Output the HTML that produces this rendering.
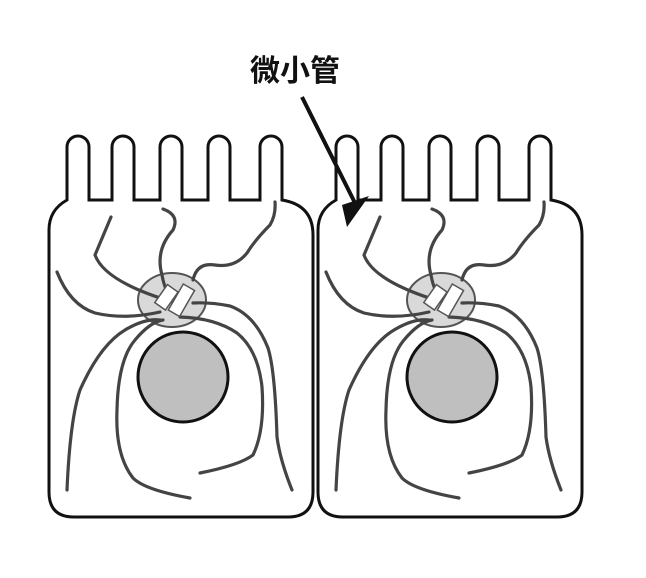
<!DOCTYPE html>
<html><head><meta charset="utf-8"><style>body{margin:0;background:#fff}svg{display:block}</style></head><body>
<svg width="646" height="578" viewBox="0 0 646 578" xmlns="http://www.w3.org/2000/svg">
<defs>
<g id="cell">
<path d="M67 200 L67 147 A11 11 0 0 1 89 147 L89 200 L112 200 L112 147 A11 11 0 0 1 134 147 L134 200 L160 200 L160 147 A11 11 0 0 1 182 147 L182 200 L208 200 L208 147 A11 11 0 0 1 230 147 L230 200 L260 200 L260 147 A11 11 0 0 1 282 147 L282 200 Q313 205 313 235 L313 492 Q313 517 288 517 L74 517 Q49 517 49 492 L49 230 Q49 210 67 200 Z" fill="#fff" stroke="#111" stroke-width="3"/>
<ellipse cx="172" cy="300" rx="34" ry="27" fill="#d9d9d9" stroke="#555" stroke-width="2"/>
<g fill="none" stroke="#444" stroke-width="3.2" stroke-linecap="round">
<path d="M111 217 L95 255 Q105 282 173 302"/>
<path d="M163 209 Q180 215 173 230 Q155 250 162 275 Q165 292 173 300"/>
<path d="M275 202 Q276 215 270 225 Q255 240 247 253 Q235 268 215 265 Q197 262 193 280"/>
<path d="M57 272 Q70 305 95 313 Q125 320 160 312"/>
<path d="M67 490 Q70 420 80 390 Q100 345 125 330 Q145 318 160 320"/>
<path d="M190 498 Q145 490 133 478 Q115 455 117 410 Q118 360 135 340 Q150 322 163 320"/>
<path d="M200 473 Q240 465 253 455 Q265 430 262 387 Q258 350 237 333 Q215 318 180 317"/>
<path d="M292 490 Q280 460 277 437 Q275 370 268 348 Q255 315 230 306 Q210 302 193 303"/>
</g>
<g fill="#fff" stroke="#555" stroke-width="1.5">
<rect x="160" y="286" width="13" height="22" transform="rotate(35 166 297)"/>
<rect x="175" y="285" width="13" height="30" transform="rotate(30 181 300)"/>
</g>
<circle cx="183" cy="377" r="45" fill="#bfbfbf" stroke="#111" stroke-width="3"/>
</g>
</defs>
<use href="#cell"/>
<use href="#cell" transform="translate(269,0)"/>
<text x="295" y="81" text-anchor="middle" font-family="'Liberation Sans','Noto Sans CJK SC',sans-serif" font-weight="bold" font-size="30" fill="#111">微小管</text>
<line x1="302" y1="97" x2="356" y2="205" stroke="#111" stroke-width="4"/>
<polygon points="347,227 342,205 369,196" fill="#111"/>
</svg>
</body></html>
